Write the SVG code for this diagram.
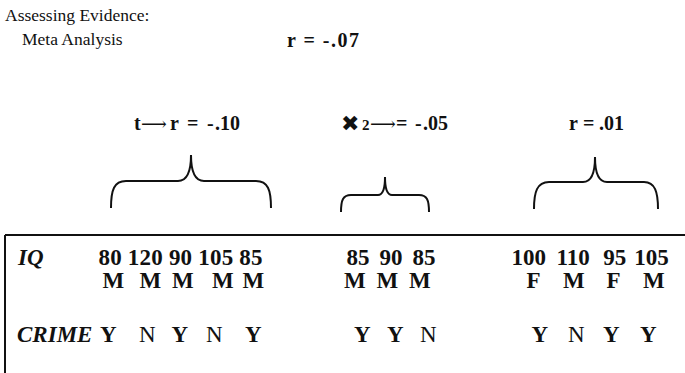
<svg xmlns="http://www.w3.org/2000/svg" width="685" height="373" viewBox="0 0 685 373">
  <style>
    text { font-family: "Liberation Serif", "Times New Roman", serif; fill: #111; }
    .reg { font-size: 17.5px; }
    .hd { font-size: 20px; font-weight: bold; }
    .tb { font-size: 23px; font-weight: bold; }
    .lbl { font-size: 23px; font-weight: bold; font-style: italic; }
    .n { font-weight: normal; }
    .arr { font-family: "DejaVu Serif", serif; font-weight: normal; font-size: 18px; }
    .x { font-family: "DejaVu Sans", sans-serif; font-size: 22px; }
    .sub { font-size: 15px; }
    .brace { fill: none; stroke: #111; stroke-width: 2; }
    .rule { stroke: #111; stroke-width: 2; fill: none; }
  </style>
  <rect width="685" height="373" fill="#fff"/>

  <!-- title block -->
  <g id="title">
    <text class="reg" x="5" y="21">Assessing Evidence:</text>
    <text class="reg" x="22" y="45">Meta Analysis</text>
    <text class="hd" x="287" y="47" font-size="21" textLength="72" lengthAdjust="spacing">r = -.07</text>
  </g>

  <!-- per-group effect sizes -->
  <g id="effect-t">
    <text class="hd" y="130"><tspan x="134">t</tspan><tspan class="arr" x="141">⟶</tspan><tspan x="170">r</tspan><tspan x="187">=</tspan><tspan x="207">-</tspan><tspan x="215">.10</tspan></text>
  </g>
  <g id="effect-chi">
    <text class="hd" y="130"><tspan class="x" x="341" dy="1">✖</tspan><tspan class="sub" x="362" dy="-1">2</tspan><tspan class="arr" x="370">⟶</tspan><tspan x="396">=</tspan><tspan x="415">-</tspan><tspan x="423">.05</tspan></text>
  </g>
  <g id="effect-r">
    <text class="hd" y="130"><tspan x="569">r</tspan><tspan x="583">=</tspan><tspan x="599">.01</tspan></text>
  </g>

  <!-- braces grouping the studies -->
  <g id="braces">
    <path class="brace" d="M111,208 C111,190 114,181 126,181 L178,181 C187,181 191,172 191,155 C191,172 195,181 204,181 L256,181 C268,181 271,190 271,208"/>
    <path class="brace" d="M341,212 C341,200 343,195 351,195 L378,195 C383,195 385,189 385,177 C385,189 387,195 392,195 L419,195 C427,195 429,200 429,212"/>
    <path class="brace" d="M534,209 C534,192 537,182 549,182 L583,182 C591,182 595,173 595,157 C595,173 599,182 607,182 L644,182 C655,182 658,192 658,209"/>
  </g>

  <!-- data table -->
  <g id="table">
    <path class="rule" d="M5,235 H685 M5,235 V373"/>
    <text class="lbl" x="18" y="264.5">IQ</text>
    <text class="lbl" x="17" y="342">CRIME</text>

    <!-- study 1 -->
    <text class="tb" x="98.5" y="264.5" textLength="164" lengthAdjust="spacing">80 120 90 105 85</text>
    <text class="tb" y="288"><tspan x="102.5">M</tspan><tspan x="139.5">M</tspan><tspan x="172">M</tspan><tspan x="212">M</tspan><tspan x="242.5">M</tspan></text>
    <text class="tb" y="342"><tspan x="100">Y</tspan><tspan class="n" x="139">N</tspan><tspan x="171.5">Y</tspan><tspan class="n" x="206">N</tspan><tspan x="245">Y</tspan></text>

    <!-- study 2 -->
    <text class="tb" y="264.5"><tspan x="346.5">85</tspan><tspan x="379.5">90</tspan><tspan x="412.5">85</tspan></text>
    <text class="tb" y="288"><tspan x="344">M</tspan><tspan x="376.5">M</tspan><tspan x="409">M</tspan></text>
    <text class="tb" y="342"><tspan x="354">Y</tspan><tspan x="387">Y</tspan><tspan class="n" x="420">N</tspan></text>

    <!-- study 3 -->
    <text class="tb" y="264.5"><tspan x="511.5">100</tspan><tspan x="556.5">110</tspan><tspan x="603.3">95</tspan><tspan x="634.3">105</tspan></text>
    <text class="tb" y="288"><tspan x="526.5">F</tspan><tspan x="563">M</tspan><tspan x="606.5">F</tspan><tspan x="643">M</tspan></text>
    <text class="tb" y="342"><tspan x="531.5">Y</tspan><tspan class="n" x="568">N</tspan><tspan x="603">Y</tspan><tspan x="640">Y</tspan></text>
  </g>
</svg>
